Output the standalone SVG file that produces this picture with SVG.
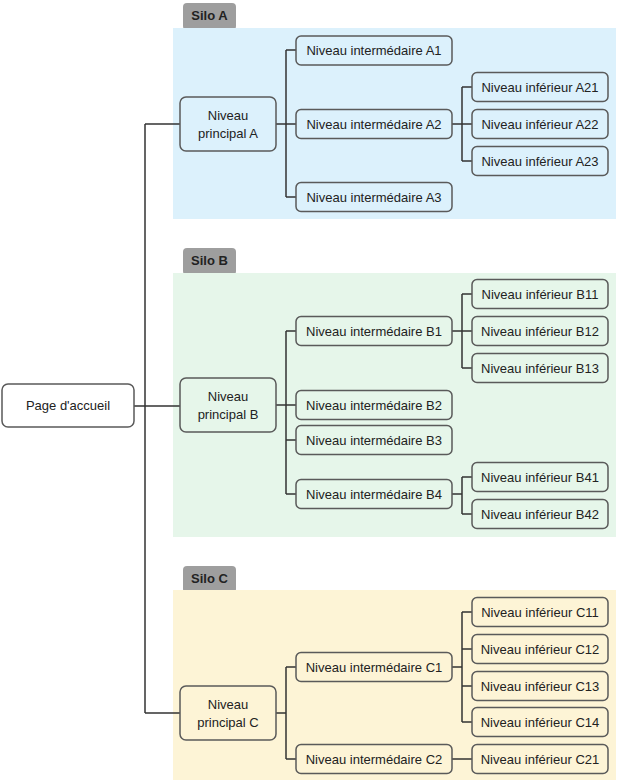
<svg xmlns="http://www.w3.org/2000/svg" width="620" height="783" viewBox="0 0 620 783">
<style>
.n{stroke:#5a5a5a;stroke-width:1.5}
.t{font-family:"Liberation Sans",Arial,sans-serif;font-size:13px;fill:#222;text-anchor:middle;dominant-baseline:central}
.tab{font-family:"Liberation Sans",Arial,sans-serif;font-size:13px;font-weight:bold;fill:#222;text-anchor:middle;dominant-baseline:central}
.c{fill:none;stroke:#333;stroke-width:1.5}
.a{fill:#dcf1fc}.b{fill:#e6f6ea}.cc{fill:#fdf4d6}
</style>
<rect width="620" height="783" fill="#fff"/>
<g id="siloA"><rect x="183" y="3" width="53" height="27" rx="4" fill="#9e9e9e"/><rect x="173" y="28" width="443" height="191" class="a"/><text x="209.5" y="15.5" class="tab">Silo A</text></g>
<g id="siloB"><rect x="183" y="248" width="53" height="27" rx="4" fill="#9e9e9e"/><rect x="173" y="273" width="443" height="264" class="b"/><text x="209.5" y="260.5" class="tab">Silo B</text></g>
<g id="siloC"><rect x="183" y="566" width="53" height="27" rx="4" fill="#9e9e9e"/><rect x="173" y="590" width="443" height="190" class="cc"/><text x="209.5" y="578" class="tab">Silo C</text></g>
<g id="connectors">
<path class="c" d="M134 406H145M145 124V713M145 124h4a0 0 0 0 0 0 0H180M145 406H180M145 713H180"/>
<path class="c" d="M276 124H296M286 50V197M286 50H296M286 197H296"/>
<path class="c" d="M452 124H472M462 87V161M462 87H472M462 161H472"/>
<path class="c" d="M276 405H296M286 331V494M286 331H296M286 440H296M286 494H296"/>
<path class="c" d="M452 331H472M462 294V368M462 294H472M462 368H472"/>
<path class="c" d="M452 494H462M462 477V514M462 477H472M462 514H472"/>
<path class="c" d="M276 713H286M286 667V759M286 667H296M286 759H296"/>
<path class="c" d="M452 667H462M462 612V722M462 612H472M462 649H472M462 686H472M462 722H472M452 759H472"/>
</g>
<g id="home"><rect x="2" y="384" width="132" height="43" rx="6" class="n" fill="#fff"/><text x="68" y="405.5" class="t">Page d'accueil</text></g>
<g id="pA"><rect x="180" y="97" width="96" height="54" rx="6" class="n a"/><text x="228" y="115" class="t">Niveau</text><text x="228" y="133" class="t">principal A</text></g>
<g id="pB"><rect x="180" y="378" width="96" height="54" rx="6" class="n b"/><text x="228" y="396" class="t">Niveau</text><text x="228" y="414" class="t">principal B</text></g>
<g id="pC"><rect x="180" y="686" width="96" height="54" rx="6" class="n cc"/><text x="228" y="704" class="t">Niveau</text><text x="228" y="722" class="t">principal C</text></g>
<g id="iA1"><rect x="296" y="36" width="156" height="29" rx="5" class="n a"/><text x="374" y="50.5" class="t">Niveau intermédaire A1</text></g>
<g id="iA2"><rect x="296" y="109.5" width="156" height="29" rx="5" class="n a"/><text x="374" y="124" class="t">Niveau intermédaire A2</text></g>
<g id="iA3"><rect x="296" y="182.5" width="156" height="29" rx="5" class="n a"/><text x="374" y="197" class="t">Niveau intermédaire A3</text></g>
<g id="lA21"><rect x="472" y="72.5" width="136" height="29" rx="5" class="n a"/><text x="540" y="87" class="t">Niveau inférieur A21</text></g>
<g id="lA22"><rect x="472" y="109.5" width="136" height="29" rx="5" class="n a"/><text x="540" y="124" class="t">Niveau inférieur A22</text></g>
<g id="lA23"><rect x="472" y="146.5" width="136" height="29" rx="5" class="n a"/><text x="540" y="161" class="t">Niveau inférieur A23</text></g>
<g id="iB1"><rect x="296" y="316.5" width="156" height="29" rx="5" class="n b"/><text x="374" y="331" class="t">Niveau intermédaire B1</text></g>
<g id="iB2"><rect x="296" y="390.5" width="156" height="29" rx="5" class="n b"/><text x="374" y="405" class="t">Niveau intermédaire B2</text></g>
<g id="iB3"><rect x="296" y="425.5" width="156" height="29" rx="5" class="n b"/><text x="374" y="440" class="t">Niveau intermédaire B3</text></g>
<g id="iB4"><rect x="296" y="479.5" width="156" height="29" rx="5" class="n b"/><text x="374" y="494" class="t">Niveau intermédaire B4</text></g>
<g id="lB11"><rect x="472" y="279.5" width="136" height="29" rx="5" class="n b"/><text x="540" y="294" class="t">Niveau inférieur B11</text></g>
<g id="lB12"><rect x="472" y="316.5" width="136" height="29" rx="5" class="n b"/><text x="540" y="331" class="t">Niveau inférieur B12</text></g>
<g id="lB13"><rect x="472" y="353.5" width="136" height="29" rx="5" class="n b"/><text x="540" y="368" class="t">Niveau inférieur B13</text></g>
<g id="lB41"><rect x="472" y="462.5" width="136" height="29" rx="5" class="n b"/><text x="540" y="477" class="t">Niveau inférieur B41</text></g>
<g id="lB42"><rect x="472" y="499.5" width="136" height="29" rx="5" class="n b"/><text x="540" y="514" class="t">Niveau inférieur B42</text></g>
<g id="iC1"><rect x="296" y="652.5" width="156" height="29" rx="5" class="n cc"/><text x="374" y="667" class="t">Niveau intermédaire C1</text></g>
<g id="iC2"><rect x="296" y="744.5" width="156" height="29" rx="5" class="n cc"/><text x="374" y="759" class="t">Niveau intermédaire C2</text></g>
<g id="lC11"><rect x="472" y="597.5" width="136" height="29" rx="5" class="n cc"/><text x="540" y="612" class="t">Niveau inférieur C11</text></g>
<g id="lC12"><rect x="472" y="634.5" width="136" height="29" rx="5" class="n cc"/><text x="540" y="649" class="t">Niveau inférieur C12</text></g>
<g id="lC13"><rect x="472" y="671.5" width="136" height="29" rx="5" class="n cc"/><text x="540" y="686" class="t">Niveau inférieur C13</text></g>
<g id="lC14"><rect x="472" y="707.5" width="136" height="29" rx="5" class="n cc"/><text x="540" y="722" class="t">Niveau inférieur C14</text></g>
<g id="lC21"><rect x="472" y="744.5" width="136" height="29" rx="5" class="n cc"/><text x="540" y="759" class="t">Niveau inférieur C21</text></g>
</svg>
